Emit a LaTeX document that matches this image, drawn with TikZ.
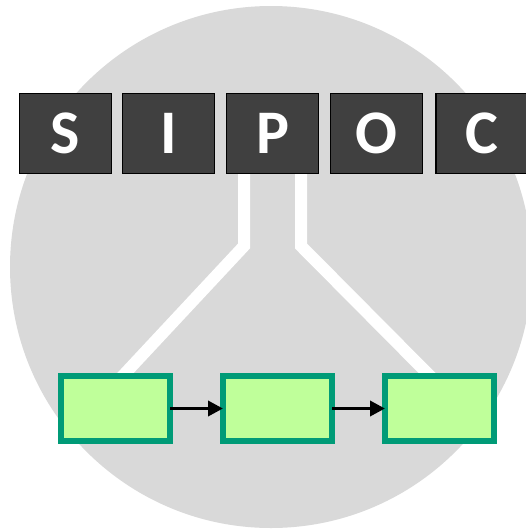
\documentclass[tikz,border=0pt]{standalone}
\usepackage{fontspec}
\setmainfont{Carlito}
\usetikzlibrary{arrows.meta}
\definecolor{circgray}{HTML}{D9D9D9}
\definecolor{boxdark}{HTML}{404040}
\definecolor{gborder}{HTML}{009B77}
\definecolor{gfill}{HTML}{BFFF9A}
\begin{document}
\begin{tikzpicture}[x=1pt,y=-1pt,
  letterbox/.style={draw=black, line width=1.5pt, fill=boxdark, minimum width=92pt, minimum height=80pt, inner sep=0pt, outer sep=0pt, text=white, font=\fontsize{62}{62}\selectfont\bfseries},
  stepbox/.style={draw=gborder, line width=6pt, fill=gfill, minimum width=109pt, minimum height=65pt, inner sep=0pt, outer sep=0pt},
  flowarrow/.style={draw=black, line width=3.5pt, -{Triangle[length=15pt,width=15pt]}},
  branch/.style={draw=white, line width=12pt, line join=miter}]
\useasboundingbox (0,0) rectangle (526,530);
\fill[circgray] (271,267) circle (261);
\node[letterbox] (S) at (65.5,133.5) {S};
\node[letterbox] (I) at (168.5,133.5) {I};
\node[letterbox] (P) at (272.5,133.5) {P};
\node[letterbox] (O) at (376.5,133.5) {O};
\node[letterbox] (C) at (482,133.5) {C};
\coordinate (l1) at (244,174);
\coordinate (l2) at (244,246);
\coordinate (l3) at (118,381);
\coordinate (r1) at (301,174);
\coordinate (r2) at (301,246);
\coordinate (r3) at (435,381);
\draw[branch] (l1) -- (l2) -- (l3);
\draw[branch] (r1) -- (r2) -- (r3);
\node[stepbox] (g1) at (115.5,408.5) {};
\node[stepbox] (g2) at (277.5,408.5) {};
\node[stepbox] (g3) at (439.5,408.5) {};
\draw[flowarrow] (g1.east) -- (g2.west);
\draw[flowarrow] (g2.east) -- (g3.west);
\end{tikzpicture}
\end{document}
